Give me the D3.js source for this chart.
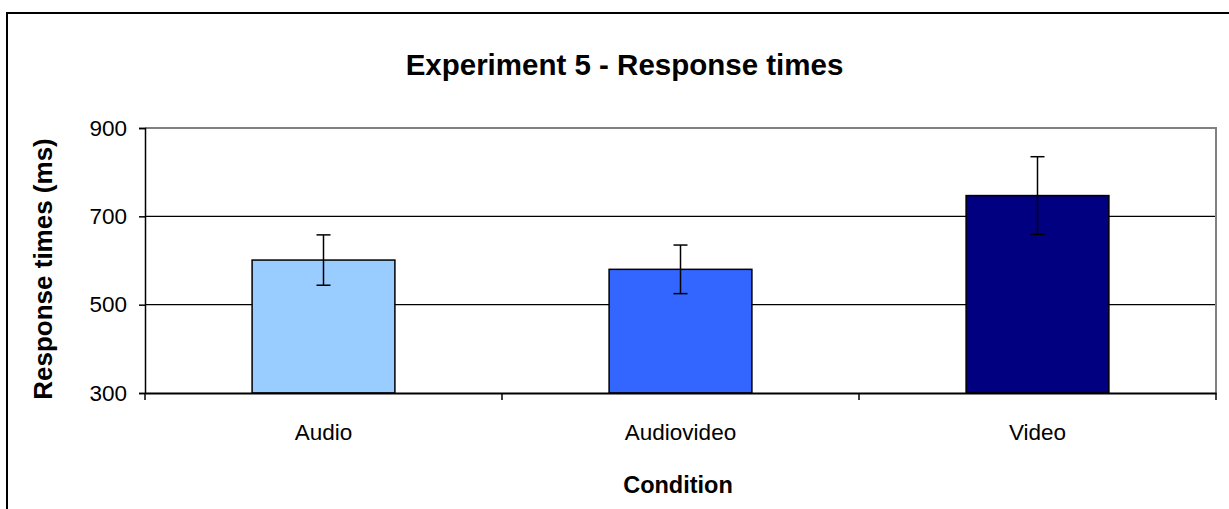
<!DOCTYPE html>
<html><head><meta charset="utf-8">
<script src="https://cdn.jsdelivr.net/npm/d3@7"></script>
<style>body{margin:0;background:#fff}svg{display:block;font-family:"Liberation Sans",Arial,sans-serif}</style>
</head><body>
<svg id="c" width="1229" height="509"></svg>
<script>
const categories = ["Audio", "Audiovideo", "Video"];
const values = [601, 580, 747];
const errors = [57, 55, 88];
const colors = ["#99CCFF", "#3366FF", "#000080"];
const yTicks = [300, 500, 700, 900];

const svg = d3.select("#c");
const L = 145, R = 1216, T = 128, B = 393;
const FF = "Liberation Sans, Arial, sans-serif";

// outer frame
svg.append("rect").attr("x", 7).attr("y", 13).attr("width", 1240).attr("height", 520)
  .attr("fill", "none").attr("stroke", "#000").attr("stroke-width", 2);

const x = d3.scaleBand().domain(categories).range([L, R]).paddingInner(0).paddingOuter(0);
const y = d3.scaleLinear().domain([300, 900]).range([B, T]);

// gridlines
svg.append("g").selectAll("line").data(yTicks.filter(v => v > 300 && v < 900)).join("line")
  .attr("x1", L).attr("x2", R).attr("y1", d => y(d)).attr("y2", d => y(d))
  .attr("stroke", "#000").attr("stroke-width", 1.2);

// plot border top/right gray
svg.append("path").attr("d", `M${L},${T}H${R}V${B}`).attr("fill", "none")
  .attr("stroke", "#808080").attr("stroke-width", 2);

// bars
const bw = x.bandwidth() * 0.4;
svg.append("g").selectAll("rect").data(categories).join("rect")
  .attr("x", d => x(d) + (x.bandwidth() - bw) / 2)
  .attr("y", (d, i) => y(values[i]))
  .attr("width", bw)
  .attr("height", (d, i) => y(300) - y(values[i]))
  .attr("fill", (d, i) => colors[i])
  .attr("stroke", "#000").attr("stroke-width", 1.5);

// error bars
const eg = svg.append("g").attr("stroke", "#000").attr("stroke-width", 1.5);
categories.forEach((c, i) => {
  const cx = x(c) + x.bandwidth() / 2;
  eg.append("line").attr("x1", cx).attr("x2", cx).attr("y1", y(values[i] + errors[i])).attr("y2", y(values[i] - errors[i]));
  [values[i] + errors[i], values[i] - errors[i]].forEach(v => {
    eg.append("line").attr("x1", cx - 7).attr("x2", cx + 7).attr("y1", y(v)).attr("y2", y(v));
  });
});

// y axis
const ya = svg.append("g").attr("transform", `translate(${L},0)`)
  .call(d3.axisLeft(y).tickValues(yTicks).tickSize(6).tickPadding(12));
ya.select(".domain").attr("stroke", "#000").attr("stroke-width", 1.5);
ya.selectAll(".tick line").attr("stroke", "#000").attr("stroke-width", 1.5);
ya.selectAll("text").attr("font-size", 22.5).attr("fill", "#000").attr("font-family", FF);

// x axis
const xa = svg.append("g").attr("transform", `translate(0,${B})`)
  .call(d3.axisBottom(x).tickSize(0).tickPadding(0));
xa.select(".domain").attr("stroke", "#000").attr("stroke-width", 2);
xa.selectAll("text").attr("dy", null).attr("y", 47).attr("font-size", 22.5).attr("fill", "#000").attr("font-family", FF);
// category boundary ticks
svg.append("g").selectAll("line").data(d3.range(categories.length + 1)).join("line")
  .attr("x1", i => L + i * x.step()).attr("x2", i => L + i * x.step())
  .attr("y1", B).attr("y2", B + 7).attr("stroke", "#000").attr("stroke-width", 1.5);

// titles
svg.append("text").attr("x", 624.5).attr("y", 75).attr("text-anchor", "middle")
  .attr("font-size", 29.5).attr("font-weight", "bold").text("Experiment 5 - Response times");
svg.append("text").attr("x", 678).attr("y", 493).attr("text-anchor", "middle")
  .attr("font-size", 23.5).attr("font-weight", "bold").text("Condition");
svg.append("text").attr("transform", `translate(52,269) rotate(-90)`).attr("text-anchor", "middle")
  .attr("font-size", 26).attr("font-weight", "bold").text("Response times (ms)");
</script>
</body></html>
